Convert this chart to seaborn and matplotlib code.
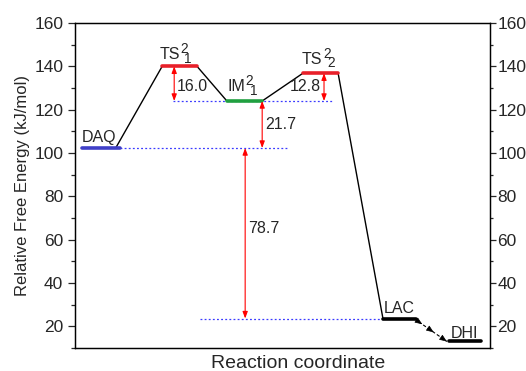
import numpy as np
import pandas as pd
import seaborn as sns
import matplotlib.pyplot as plt
from matplotlib.ticker import MultipleLocator
from matplotlib.transforms import offset_copy

# states along the reaction coordinate
state_names = ['DAQ', 'TS', 'IM', 'TS', 'LAC', 'DHI']
state_sup = ['', '2', '2', '2', '', '']
state_sub = ['', '1', '1', '2', '', '']
energies = [102.3, 140.0, 124.0, 136.8, 23.6, 13.0]
x_start = [0.17, 2.10, 3.66, 5.49, 7.42, 9.01]
x_end = [1.08, 2.94, 4.51, 6.34, 8.22, 9.78]
level_colors = ['#4040C8', '#E8202A', '#20A040', '#E8202A', 'black', 'black']

# energy differences (from state, to state, value, arrow x)
barrier_from = [2, 2, 0, 0]
barrier_to = [1, 3, 2, 4]
barrier_vals = ['16.0', '12.8', '21.7', '78.7']
barrier_x = [2.39, 6.00, 4.51, 4.10]

# blue guide lines (level, x from, x to)
guide_level = [2, 0, 4]
guide_x0 = [2.36, 1.08, 3.01]
guide_x1 = [6.19, 5.13, 7.42]


def main():
    sns.set_style('ticks')
    plt.rcParams['font.family'] = ['Liberation Sans', 'DejaVu Sans']

    fig = plt.figure(figsize=(5.26, 3.71), dpi=100)
    ax = fig.add_axes([0.1426, 0.062, 0.789, 0.876])

    levels = pd.DataFrame({'E': energies, 'x0': x_start, 'x1': x_end, 'c': level_colors})

    # connectors (solid) between first five states
    for i in range(4):
        sns.lineplot(x=[x_end[i] - 0.1 * (i == 0), x_start[i + 1]],
                     y=[energies[i], energies[i + 1]],
                     color='black', lw=1.0, ax=ax)

    # guide lines
    for lv, a, b in zip(guide_level, guide_x0, guide_x1):
        ax.plot([a, b], [energies[lv], energies[lv]], color='#3A3AFF',
                lw=0.9, ls=(0, (1.5, 1.8)))

    # energy levels
    for _, r in levels.iterrows():
        sns.lineplot(x=[r.x0, r.x1], y=[r.E, r.E], color=r.c, lw=2.6, ax=ax)

    # LAC -> DHI dashed with arrows
    p0 = np.array([x_end[4] - 0.05, energies[4]])
    p1 = np.array([x_start[5] - 0.05, energies[5]])
    ax.plot([p0[0], p1[0]], [p0[1], p1[1]], color='black', lw=0.8, ls=(0, (3, 2)))
    for f in [0.25, 0.6, 1.0]:
        q = p0 + (p1 - p0) * f
        qs = p0 + (p1 - p0) * (f - 0.05)
        ax.annotate('', xy=q, xytext=qs,
                    arrowprops=dict(arrowstyle='-|>,head_length=0.45,head_width=0.18',
                                    color='black', lw=0.5, shrinkA=0, shrinkB=0))

    # barrier arrows and labels
    label_pos = {'16.0': (2.46, 130.6, 'left'), '12.8': (5.93, 130.6, 'right'),
                 '21.7': (4.58, 113.2, 'left'), '78.7': (4.17, 65.0, 'left')}
    for a, b, v, x in zip(barrier_from, barrier_to, barrier_vals, barrier_x):
        ax.annotate('', xy=(x, energies[b]), xytext=(x, energies[a]),
                    arrowprops=dict(arrowstyle='<|-|>,head_length=0.4,head_width=0.15',
                                    color='red', lw=0.8, shrinkA=0, shrinkB=0))
        lx, ly, ha = label_pos[v]
        ax.text(lx, ly, v, ha=ha, va='center', fontsize=11.5)

    # state labels, with big super/subscripts as in the original
    name_pos = [(0.17, 105.0), (2.03, 143.3), (3.67, 128.4),
                (5.47, 141.3), (7.43, 26.3), (9.05, 14.5)]
    fs = 11.5
    fig.canvas.draw()
    for nm, sp, sb, (lx, ly) in zip(state_names, state_sup, state_sub, name_pos):
        t = ax.text(lx, ly, nm, ha='left', va='baseline', fontsize=fs)
        if sp:
            w = t.get_window_extent(renderer=fig.canvas.get_renderer()).width * 72 / fig.dpi
            tr_sp = offset_copy(ax.transData, fig=fig, x=w + 0.3, y=4.3, units='points')
            tr_sb = offset_copy(ax.transData, fig=fig, x=w + 3.3, y=-2.6, units='points')
            ax.text(lx, ly, sp, transform=tr_sp, ha='left', va='baseline', fontsize=9.8)
            ax.text(lx, ly, sb, transform=tr_sb, ha='left', va='baseline', fontsize=9.8)

    ax.set_xlim(0, 10)
    ax.set_ylim(10, 160)
    ax.set_xticks([])
    ax.yaxis.set_minor_locator(MultipleLocator(10))
    ax.set_yticks(range(20, 161, 20))
    ax.tick_params(axis='y', which='major', direction='out', length=5, width=0.9,
                   labelsize=12.5, pad=3.5)
    ax.tick_params(axis='y', which='minor', direction='out', length=2.8, width=0.9)
    ax.set_xlabel('Reaction coordinate', fontsize=14, labelpad=5)
    ax.xaxis.label.set_x(0.538)
    ax.set_ylabel('Relative Free Energy (kJ/mol)', fontsize=12, labelpad=3)

    ax2 = ax.twinx()
    ax2.set_ylim(10, 160)
    ax2.yaxis.set_minor_locator(MultipleLocator(10))
    ax2.set_yticks(range(20, 161, 20))
    ax2.tick_params(axis='y', which='major', direction='out', length=4, width=0.9,
                    labelsize=12.5, pad=1.2)
    ax2.tick_params(axis='y', which='minor', direction='out', length=2.5, width=0.9)

    for a_ in (ax, ax2):
        for s in a_.spines.values():
            s.set_visible(True)
            s.set_linewidth(0.9)
            s.set_color('black')

    fig.savefig('out.png', dpi=100)


if __name__ == "__main__":
    main()
